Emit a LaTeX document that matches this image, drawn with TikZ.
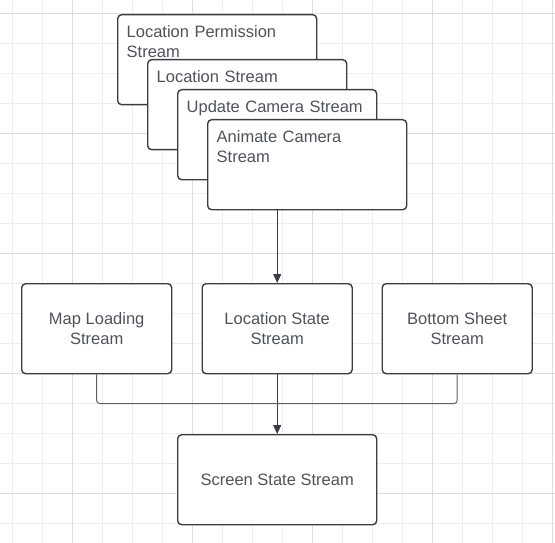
\documentclass[tikz,border=0pt]{standalone}
\usepackage{fontspec}
\setmainfont{Liberation Sans}
\usetikzlibrary{arrows.meta, positioning}
\definecolor{cline}{HTML}{3A3D45}
\definecolor{clink}{HTML}{5E626A}
\definecolor{ctext}{HTML}{4E535B}
\definecolor{cgridmin}{HTML}{EEEEEE}
\definecolor{cgridmaj}{HTML}{DDDDDD}
\tikzset{
  every picture/.style={x=1pt, y=-1pt},
  box/.style={draw=cline, fill=white, rounded corners=4pt, line width=1.4pt, text=ctext,
    font=\fontsize{16.5}{20}\selectfont, anchor=north west, inner sep=0pt},
  stackbox/.style={box, minimum width=199pt, minimum height=90pt, text width=181pt, align=left,
    inner xsep=9pt, inner ysep=6pt, text height=17pt, text depth=61pt},
  streambox/.style={box, minimum width=150pt, minimum height=90pt, align=center},
  link/.style={draw=clink, line width=1pt, rounded corners=3pt},
  arrow/.style={link, draw=cline, -{Triangle[length=9pt, width=8pt]}},
}
\begin{document}
\begin{tikzpicture}
  \useasboundingbox (0,0) rectangle (555,543);
  % background grid
  \foreach \x in {12.5,42.5,...,552.5} \draw[cgridmin] (\x,0) -- (\x,543);
  \foreach \y in {13.3,43.3,...,543} \draw[cgridmin] (0,\y) -- (555,\y);
  \foreach \x in {72.5,192.5,...,552.5} \draw[cgridmaj] (\x,0) -- (\x,543);
  \foreach \y in {13.3,133.3,...,543} \draw[cgridmaj] (0,\y) -- (555,\y);
  % stacked input streams
  \node[stackbox] (perm) at (117,14) {Location Permission\\Stream};
  \node[stackbox] (loc) at (147,59) {Location Stream};
  \node[stackbox] (upd) at (177,89) {Update Camera Stream};
  \node[stackbox] (anim) at (207,119) {Animate Camera\\Stream};
  % state streams
  \node[streambox] (map) at (21,283) {Map Loading\\Stream};
  \node[streambox] (locstate) at (201.5,283) {Location State\\Stream};
  \node[streambox] (sheet) at (381.5,283) {Bottom Sheet\\Stream};
  \node[box, minimum width=199pt, minimum height=90pt] (screen) at (177,434) {Screen State Stream};
  % connectors
  \draw[arrow] (anim.south -| locstate.north) -- (locstate.north);
  \coordinate (join) at (276.5,403.5);
  \draw[link] (map.south) |- (join);
  \draw[link] (sheet.south) |- (join);
  \draw[arrow] (locstate.south) -- (screen.north);
\end{tikzpicture}
\end{document}
